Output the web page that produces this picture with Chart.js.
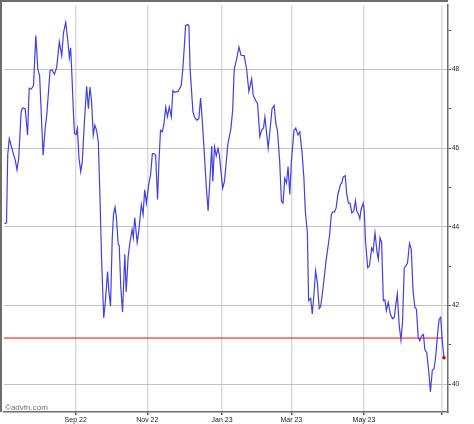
<!DOCTYPE html>
<html><head><meta charset="utf-8">
<script src="https://cdn.jsdelivr.net/npm/chart.js@4"></script>
<style>html,body{margin:0;padding:0;background:#fff;} canvas{display:block;}</style>
</head><body>
<canvas id="c" width="474" height="424"></canvas>
<script>
// trading-session index and closing price
const days = [-0.8,0.3,1.0,1.9,4.4,5.3,6.3,7.3,8.7,9.5,11.0,12.4,13.3,14.5,15.8,17.1,18.3,19.3,21.3,22.5,23.4,25.3,26.3,27.8,29.1,30.6,32.0,33.0,34.3,35.4,36.4,37.1,37.7,38.7,39.3,40.2,41.0,41.9,42.9,43.8,45.0,46.3,47.3,48.2,49.1,50.1,51.0,52.0,53.0,53.9,54.9,56.1,57.1,58.3,59.0,60.0,61.0,61.7,62.6,63.4,64.4,65.0,65.9,66.9,68.2,69.0,70.1,71.0,72.4,73.1,73.9,75.3,76.2,77.7,78.7,79.6,80.6,81.9,83.0,84.0,85.0,85.9,87.0,87.8,88.7,89.7,90.7,91.7,92.7,93.7,94.9,95.8,96.7,98.7,100.6,101.5,102.5,103.1,104.4,105.0,105.7,107.3,108.2,109.5,110.7,111.7,112.6,113.9,114.9,116.0,117.1,118.1,118.7,119.7,120.7,121.7,122.5,123.4,124.4,125.4,127.3,129.1,130.1,131.0,132.3,133.7,134.9,136.7,138.1,139.4,141.0,141.9,143.3,144.4,145.7,146.7,147.8,148.6,149.5,150.5,151.8,152.7,153.9,154.9,155.8,157.1,158.1,159.0,160.0,161.0,161.9,162.9,163.8,165.3,166.3,167.6,168.6,169.9,171.0,171.8,173.0,173.7,174.9,175.8,176.7,177.7,178.7,179.8,180.6,181.9,183.8,185.7,186.7,187.6,188.6,189.5,190.5,192.0,192.7,193.5,194.7,195.6,196.6,197.5,198.5,199.6,200.6,201.3,202.3,203.1,203.8,205.1,205.7,206.3,207.6,208.6,209.9,210.7,211.8,213.0,213.7,214.7,215.6,216.6,217.5,218.3,219.4,220.6,221.9,222.9,223.8,224.6,225.7,226.7,227.6,228.6,229.5,230.5,231.6,232.6,233.7,234.7,235.6,236.6,237.5,238.5,239.6,240.4,241.5,242.7,243.6,244.7,245.7,246.7,247.6,248.6,249.5,250.5,251.4];
const prices = [44.08,44.1,45.83,46.24,45.83,45.7,45.45,45.74,46.92,47.02,47.0,46.33,47.52,47.5,47.59,48.86,48.0,47.84,45.82,46.5,46.84,47.97,47.99,47.88,48.05,48.7,48.35,48.93,49.2,48.76,48.3,48.55,48.0,46.92,46.37,46.34,46.5,45.74,45.4,45.66,46.66,47.57,47.0,47.55,47.21,46.33,46.58,46.45,46.16,44.82,43.13,41.68,42.13,42.86,42.38,41.98,43.72,44.31,44.5,44.23,43.56,43.52,42.46,41.83,43.3,42.34,43.22,43.56,43.93,43.72,44.23,43.6,43.89,44.56,44.31,44.94,44.6,45.07,45.32,45.86,45.86,45.82,44.69,45.66,46.45,46.41,46.62,47.04,46.8,47.04,46.79,47.46,47.42,47.44,47.59,48.01,48.68,49.12,49.14,49.1,48.0,46.92,46.79,46.71,46.75,47.27,46.75,45.82,45.07,44.4,45.23,46.05,45.15,46.03,45.8,45.99,45.82,45.4,44.98,45.15,46.08,46.5,46.96,48.0,48.24,48.57,48.36,48.35,48.01,47.44,47.76,47.34,47.21,47.13,46.29,46.45,46.51,46.79,46.41,46.0,46.58,47.0,47.08,46.62,46.45,45.66,44.65,44.6,45.23,45.11,45.53,44.82,45.66,46.45,46.51,46.33,46.41,45.91,45.23,44.4,43.84,42.12,42.18,41.78,42.25,42.88,42.58,41.92,41.97,42.41,43.17,43.77,44.3,44.38,44.38,44.48,44.82,45.08,45.11,45.26,45.3,44.82,44.6,44.6,44.35,44.4,44.66,44.4,44.32,44.2,44.44,44.6,44.35,43.67,42.96,43.0,43.46,43.38,43.84,43.34,43.17,43.72,43.6,42.12,42.14,41.87,42.08,41.78,41.66,41.7,42.04,42.29,41.49,41.12,41.57,42.96,43.0,43.09,43.58,43.43,42.33,41.95,41.9,41.18,41.1,41.22,41.26,40.88,40.8,40.3,39.8,40.35,40.39,40.72,41.22,41.65,41.7,41.05,40.67];
const tickDays = [40, 81.1, 124, 163.8, 205.5, 249.9];
const tickLabels = ['Sep 22', 'Nov 22', 'Jan 23', 'Mar 23', 'May 23', ''];
const yTickValues = [40, 41, 42, 43, 44, 45, 46, 47, 48, 49];
const refLevel = 41.17;
const xMin = -1.14, xMax = 253.7, yMin = 39.29, yMax = 49.64;

const frame = {
  id: 'frame',
  afterDraw(chart) {
    const ctx = chart.ctx, a = chart.chartArea;
    ctx.save();
    ctx.fillStyle = '#6e6e6e';
    ctx.fillRect(0, 0, 2, a.bottom);
    ctx.fillRect(0, 0, a.right, 2);
    ctx.font = '8px "Liberation Sans", Arial, sans-serif';
    ctx.fillStyle = '#707070';
    ctx.textBaseline = 'alphabetic';
    ctx.fillText('\u00a9advfn.com', 5, 409.5);
    ctx.restore();
  }
};

const lastIdx = days.length - 1;
new Chart(document.getElementById('c'), {
  type: 'line',
  data: {
    datasets: [
      {
        data: days.map((d, i) => ({ x: d, y: prices[i] })),
        borderColor: '#4040e4',
        borderWidth: 1.2,
        tension: 0,
        pointRadius: c => c.dataIndex === lastIdx ? 1.8 : 0,
        pointBackgroundColor: '#e00000',
        pointBorderWidth: 0
      },
      {
        data: [{ x: xMin, y: refLevel }, { x: days[lastIdx] - 0.9, y: refLevel }],
        borderColor: '#ff0000',
        borderWidth: 1,
        pointRadius: 0
      }
    ]
  },
  options: {
    responsive: false,
    animation: false,
    events: [],
    layout: { padding: { left: 2, top: 2, right: 0, bottom: 0 } },
    plugins: { legend: { display: false }, tooltip: { enabled: false } },
    scales: {
      x: {
        type: 'linear', min: xMin, max: xMax,
        afterBuildTicks: s => { s.ticks = tickDays.map(v => ({ value: v })); },
        afterFit: s => { s.height = 12; },
        ticks: {
          autoSkip: false, maxRotation: 0, padding: 1,
          font: { family: 'Liberation Sans', size: 7 }, color: '#222',
          callback: (v, i) => tickLabels[i]
        },
        grid: { color: '#dcdcdc', lineWidth: 1.5, tickLength: 3, tickColor: '#555' },
        border: { color: '#6e6e6e', width: 1.5 }
      },
      y: {
        type: 'linear', position: 'right', min: yMin, max: yMax,
        afterBuildTicks: s => { s.ticks = yTickValues.map(v => ({ value: v })); },
        afterFit: s => { s.width = 26; },
        ticks: {
          padding: 1, font: { family: 'Liberation Sans', size: 6.5 }, color: '#222',
          callback: v => (v % 2 === 0 ? String(v) : '')
        },
        grid: {
          color: c => (c.tick && c.tick.value % 2 === 0 ? '#c4c4c4' : 'rgba(0,0,0,0)'),
          lineWidth: 1, tickLength: 3, tickColor: '#555'
        },
        border: { color: '#6e6e6e', width: 1.5 }
      }
    }
  },
  plugins: [frame]
});
</script>
</body></html>
